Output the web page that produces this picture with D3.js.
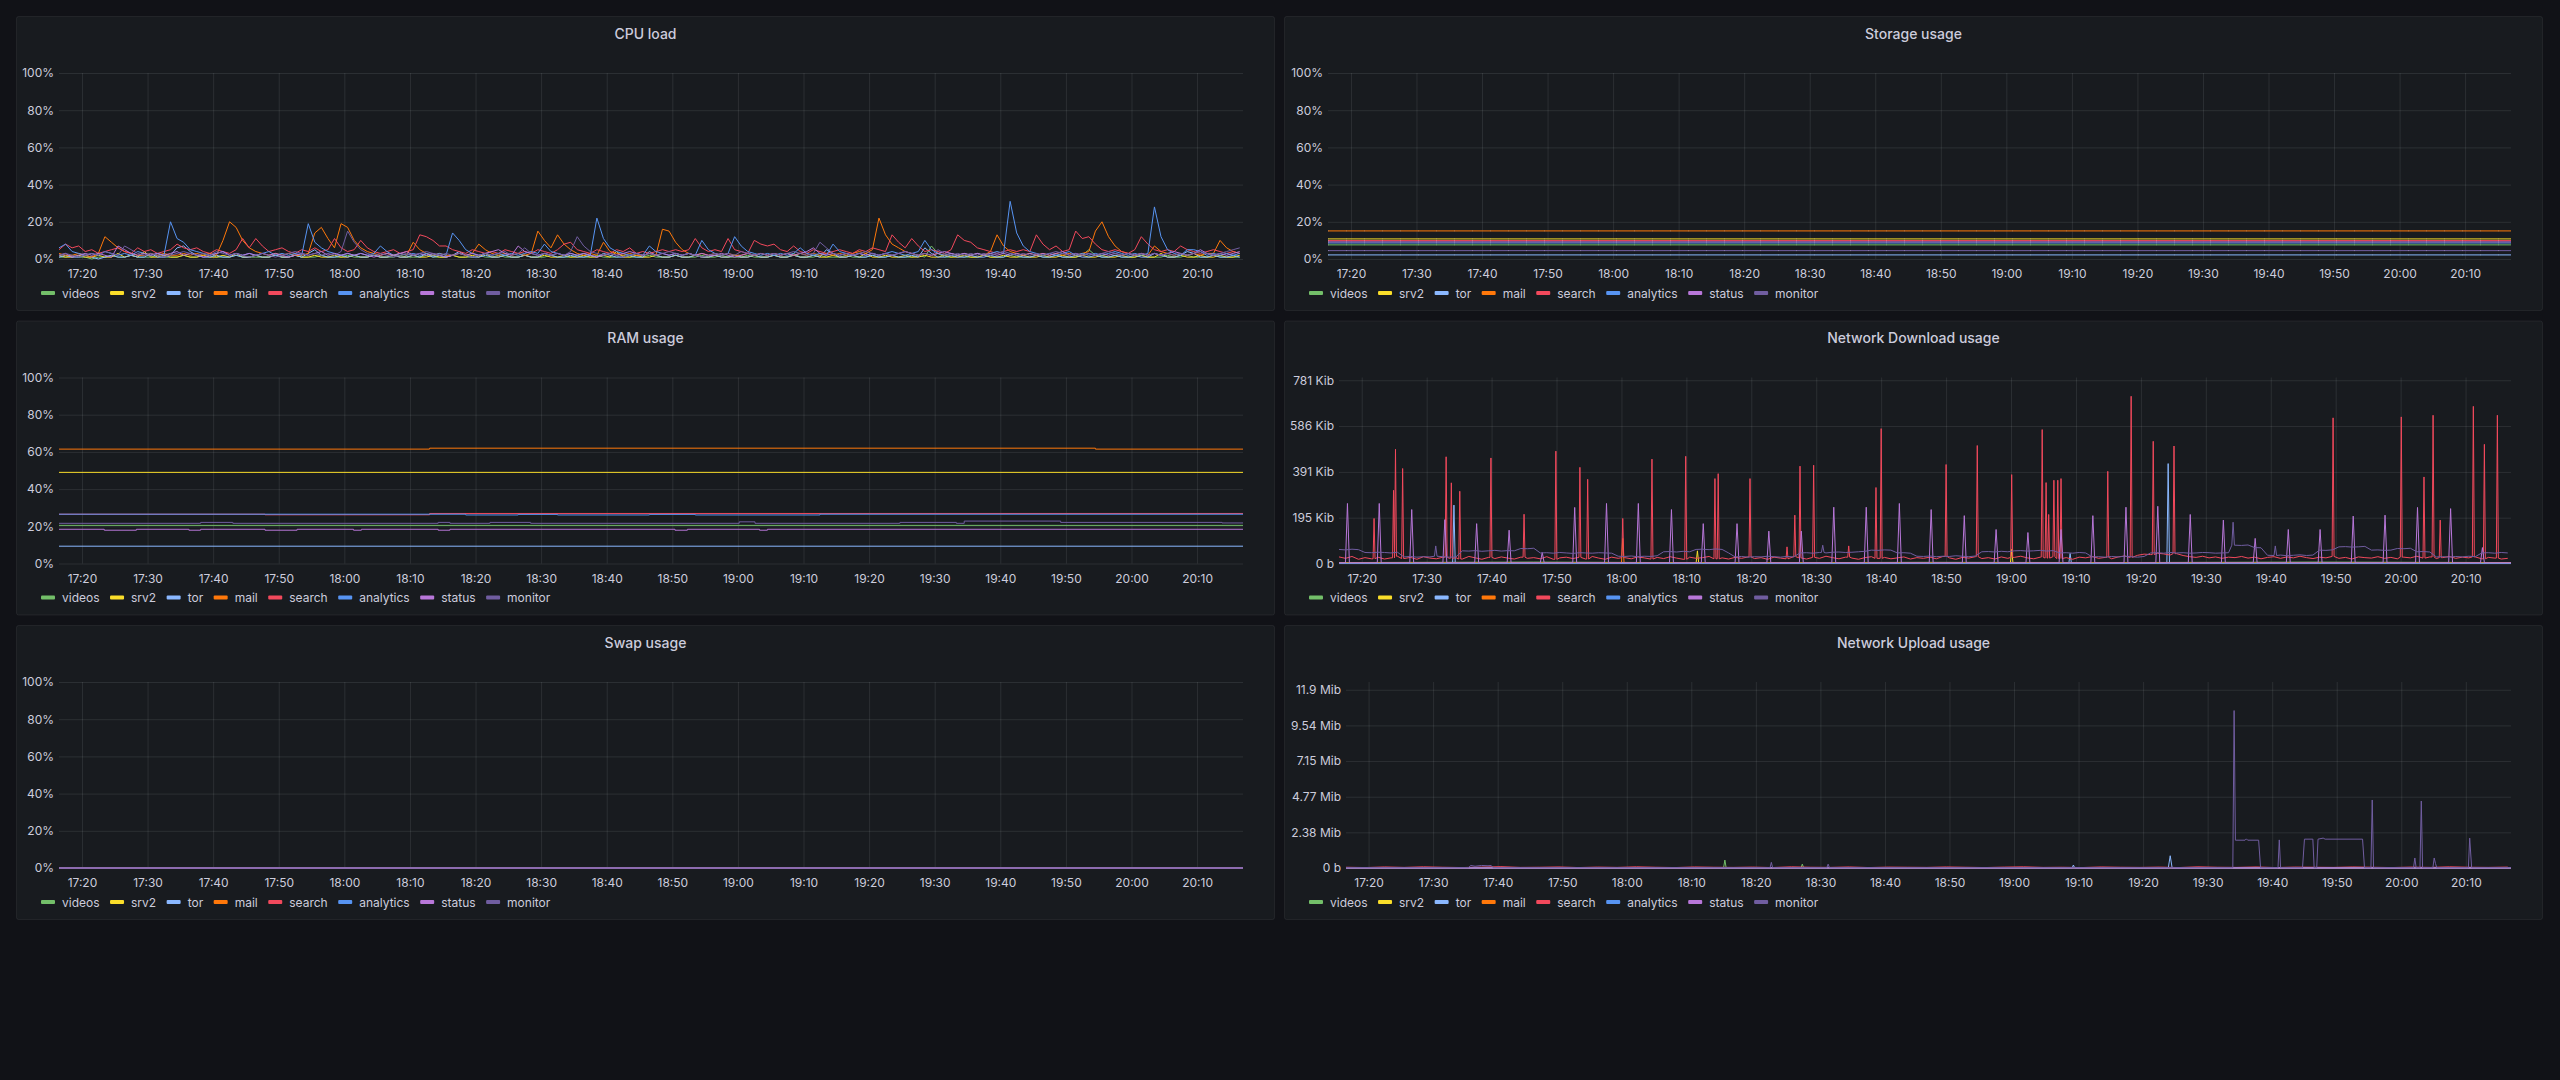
<!DOCTYPE html>
<html><head><meta charset="utf-8">
<script src="https://cdn.jsdelivr.net/npm/d3@7"></script>
<style>
html,body{margin:0;padding:0;background:#111217;}
svg{display:block;font-family:Inter,"Noto Sans",sans-serif;}
</style></head><body>
<svg id="c" width="2560" height="1080"></svg>
<script>
// ---------------- DATA ----------------
const startTime = new Date(2021, 4, 12, 17, 16, 30); // left edge of every plot
const endMinute = 180.5;                            // right edge, minutes after startTime
const seriesNames = ["videos","srv2","tor","mail","search","analytics","status","monitor"];

// CPU load (%), one value per minute from startTime
const cpuVideos = [1,1,2,1,1,0,1,1,2,1, 1,2,1,1,1,2,1,1,1,2, 1,1,2,3,1,1,1,2,1,1, 1,1,1,2,1,1,2,1,1,1, 2,1,1,1,2,1,1,1,2,1, 1,1,2,1,1,1,2,1,1,1, 2,1,1,1,2,1,1,2,1,1, 1,2,1,1,1,2,1,1,1,2, 1,1,2,1,1,1,2,1,1,1, 2,1,1,1,2,1,1,1,2,1, 1,2,1,1,1,2,1,1,1,2, 1,1,3,1,1,1,2,1,1,1, 2,1,1,1,2,1,1,2,1,1, 1,2,1,7,3,1,1,2,1,1, 1,2,1,1,1,2,1,1,1,2, 1,1,2,1,1,1,2,5,2,1, 1,2,1,1,1,2,1,1,1,2, 1,1,2,1,1,1,2,1,1,1, 1];
const cpuSrv2 = [2,1,1,2,1,1,2,1,1,3, 1,2,1,4,1,1,2,1,1,2, 1,1,2,1,1,2,1,3,1,1, 2,1,1,2,1,1,2,1,1,2, 1,1,2,1,1,2,1,1,2,1, 1,2,1,1,2,1,1,2,1,1, 2,1,1,2,1,3,1,1,2,1, 1,2,1,1,2,1,1,2,1,1, 2,1,1,2,1,4,1,1,2,1, 1,2,1,1,2,1,1,2,1,1, 2,1,1,2,1,1,2,1,1,2, 1,1,2,1,1,2,1,1,2,1, 1,2,1,3,1,1,2,1,1,2, 1,1,2,1,1,2,1,1,2,1, 1,2,1,1,2,1,1,2,1,1, 2,1,1,2,1,1,2,1,1,2, 1,1,2,1,1,2,1,1,3,1, 1,2,1,1,2,1,1,2,1,1, 2];
const cpuTor = [1,2,1,1,2,1,0,1,2,1, 1,2,1,1,3,1,1,2,6,7, 4,2,1,1,2,1,1,2,1,1, 2,1,1,2,1,1,2,1,3,5, 2,1,1,2,1,2,1,1,2,1, 1,2,1,1,2,1,3,1,2,1, 2,4,2,1,1,2,1,1,2,1, 1,2,1,1,3,2,1,1,2,1, 1,2,1,3,2,1,1,2,1,1, 4,2,1,1,2,1,1,2,1,1, 2,1,1,2,1,1,2,1,1,2, 1,1,2,1,1,2,1,5,3,1, 1,2,1,1,2,1,1,2,1,1, 2,1,6,3,1,1,2,1,1,2, 1,1,2,1,1,3,2,1,1,2, 1,1,2,1,1,2,1,1,2,1, 1,2,1,1,2,1,1,3,2,1, 1,2,4,3,1,1,2,1,1,2, 1];
const cpuMail = [3,2,2,3,2,1,3,12,9,6, 4,3,2,2,3,2,3,2,2,3, 2,3,2,3,2,10,20,17,10,6, 4,3,2,3,2,3,2,2,3,14, 17,11,6,19,17,10,6,4,3,2, 3,2,3,2,9,5,3,2,3,2, 2,3,2,3,8,5,3,2,3,2, 3,2,3,15,10,6,13,8,5,3, 2,3,2,9,4,3,2,3,2,2, 3,2,16,15,9,5,3,2,3,2, 3,2,3,2,2,3,2,3,2,3, 2,3,2,3,2,3,2,3,2,3, 2,3,4,3,5,22,13,8,6,4, 3,2,3,2,3,2,3,2,3,2, 3,2,4,13,7,4,3,2,3,2, 3,2,3,2,3,2,3,4,15,20, 12,7,4,3,2,3,2,7,4,3, 2,3,2,3,2,3,3,10,6,4, 3];
const cpuSearch = [5,8,6,7,4,5,3,4,5,6, 4,3,6,4,5,3,4,5,8,6, 5,6,4,3,5,4,3,5,11,6, 11,7,4,5,6,4,3,5,4,6, 4,5,11,6,4,5,10,6,4,3, 4,5,3,4,5,13,12,10,7,7, 5,4,3,5,4,3,4,3,5,4, 3,4,3,5,4,3,5,8,9,5, 4,3,5,4,3,5,4,6,3,4, 3,4,5,4,5,4,5,11,6,4, 5,4,11,5,4,3,10,8,7,8, 5,4,7,4,3,5,4,3,4,5, 4,3,5,4,6,5,4,13,9,6, 11,7,4,5,4,3,5,13,10,9, 6,5,4,3,4,5,4,5,4,13, 8,5,7,4,5,15,11,12,8,5, 4,5,4,3,5,12,8,5,4,5, 4,7,5,4,3,4,5,4,3,4, 3];
const cpuAnalytics = [6,8,4,3,2,3,2,4,3,2, 3,2,4,3,2,3,2,20,11,9, 5,4,3,2,3,4,2,3,2,3, 2,3,4,2,3,2,3,2,19,9, 6,4,3,2,3,2,3,2,3,7, 4,2,3,2,3,2,3,2,3,2, 14,10,5,3,2,3,2,3,2,3, 2,3,4,3,8,4,3,2,3,2, 3,2,22,11,6,4,3,2,3,2, 7,4,3,2,3,2,3,2,10,5, 3,2,3,12,7,4,3,2,3,2, 3,2,3,6,3,2,3,2,8,4, 3,2,3,2,3,2,3,4,3,2, 3,4,10,5,3,2,3,2,3,2, 3,2,3,4,3,31,14,7,4,3, 2,3,2,3,4,2,3,2,3,2, 3,4,3,2,3,2,3,28,12,5, 3,2,5,5,4,2,3,2,3,2, 3];
const cpuStatus = [2,3,1,2,3,2,3,2,1,7, 5,3,2,3,2,3,2,3,4,2, 3,2,1,2,3,4,2,3,2,3, 2,3,2,3,2,1,2,3,2,3, 4,2,3,2,3,2,3,2,1,2, 3,2,3,4,2,3,2,3,2,1, 2,3,2,3,2,3,4,5,3,2, 7,4,3,2,3,2,3,2,3,2, 3,2,1,2,3,2,3,4,3,2, 3,2,3,2,3,2,3,2,3,2, 2,3,2,1,2,3,2,3,2,3, 2,3,2,3,4,6,3,2,3,2, 3,2,3,2,3,2,3,2,3,4, 3,2,3,2,3,4,3,2,3,2, 3,2,3,2,3,2,3,2,3,2, 3,2,3,4,2,3,2,3,2,3, 2,3,2,3,2,3,2,3,2,3, 4,3,2,3,5,3,2,3,2,3, 4];
const cpuMonitor = [2,3,2,1,2,3,2,4,3,2, 7,5,3,2,3,2,1,2,3,4, 3,2,3,2,4,3,2,3,2,1, 2,3,2,1,2,3,4,3,2,3, 2,3,2,4,15,9,5,3,2,3, 2,1,2,3,2,3,4,3,2,3, 2,3,2,1,2,3,2,3,4,2, 3,6,3,2,3,2,3,2,4,12, 7,4,3,2,3,2,1,2,3,2, 3,2,3,4,3,2,3,2,1,2, 3,2,3,2,4,3,2,3,2,3, 2,3,4,3,2,3,9,6,3,2, 3,2,3,4,3,2,3,2,3,4, 3,2,3,2,5,3,2,3,2,3, 2,3,2,3,4,3,2,3,2,3, 2,3,4,3,2,3,2,3,2,3, 4,3,2,3,2,3,2,3,2,3, 2,3,2,3,4,3,2,3,4,5, 6];

// Storage usage (%), constant levels
const storageValues = [7.6, 10.8, 2.2, 15.1, 9.9, 8.6, 9.2, 4.5];

// RAM usage (%), [minute, value] change points
const ramVideos = [[0,20.5],[180.5,20.5]];
const ramSrv2 = [[0,49],[180.5,49]];
const ramTor = [[0,9.3],[180.5,9.3]];
const ramMail = [[0,61.5],[56.5,62],[158,61.5],[180.5,61.5]];
const ramSearch = [[0,26.5],[31.4,26.2],[56.5,26.9],[180.5,26.9]];
const ramAnalytics = [[0,26.5],[62,26.1],[70,26.4],[76,26.1],[90,26.4],[97,26.1],[116,26.5],[180.5,26.5]];
const ramStatus = [[0,18.4],[6.9,17.9],[11.8,18.4],[19.8,17.9],[21.6,18.4],[31.4,17.9],[36.3,18.4],[44.9,17.9],[46.1,18.4],[57.8,17.9],[59.6,18.4],[93.9,17.9],[95.8,18.4],[106.8,17.9],[108,18.4],[180.5,18.4]];
const ramMonitor = [[0,21.6],[21.6,22.1],[26.5,21.6],[57.8,22.1],[59.6,21.6],[65.7,22.1],[71.9,21.6],[103.7,22.4],[106.1,21.6],[128.2,22.1],[136.8,21.6],[138,22.8],[152.7,22.1],[177.3,21.8],[180.5,21.8]];

// Swap usage (%)
const swapValues = [0,0,0,0,0,0,0,0];

// Network Download (Kib)
const dlSearchBase = [28,22,30,18,25,20,27,19,24,31, 21,26,18,29,23,20,27,22,25,19, 30,24,18,26,21,28,23,19,27,22, 25,20,29,18,24,27,21,26,19,30, 23,18,27,22,25,20,28,24,19,26, 21,29,23,18,27,22,25,30,20,24, 19,26,22,28,21,25,18,27,23,20, 29,24,19,26,22,31,25,20,27,23, 18,25,29,22,26,20,24,28,19,25, 22,27,20,30,24,18,26,23,29,21, 25,19,28,22,26,31,24,20,27,23, 29,21,25,18,27,24,30,22,26,20, 28,32,26,35,40,38,44,41,36,42, 34,29,26,31,24,28,22,27,25,30, 23,27,20,26,29,22,28,24,31,25, 21,27,24,30,22,26,19,28,25,23, 29,22,26,20,27,24,31,23,28,21, 25,30,22,27,24,28,20,26,23,19, 22];
const dlSearchSpikes = [[5.4,192],[8.4,312],[8.7,487],[9.8,405],[16.5,455],[17.3,344],[18.6,308],[23.4,450],[28.5,210],[33.4,479],[37.1,410],[38.3,359],[43.7,192],[48.2,445],[53.4,457],[57.9,362],[58.4,383],[63.3,362],[69.0,71],[70.2,206],[71.0,415],[73.1,419],[78.5,75],[82.7,324],[83.5,575],[93.5,422],[98.3,503],[103.6,379],[108.3,571],[108.9,345],[109.3,209],[110.1,355],[110.7,355],[111.2,362],[118.4,393],[122.0,713],[125.4,521],[128.6,501],[153.1,621],[163.6,625],[167.1,369],[168.5,632],[169.6,185],[174.7,670],[176.4,508],[178.4,632]];
const dlStatusBase = [[0,3],[180.5,3]];
const dlStatusSpikes = [[1.3,256],[6.2,256],[11.2,230],[16.3,187],[21.2,170],[26.2,142],[31.3,47],[36.3,239],[41.2,256],[46.1,256],[51.2,230],[56.1,170],[61.3,170],[66.2,138],[71.2,138],[76.2,240],[81.2,240],[86.3,256],[91.2,230],[96.3,204],[101.2,145],[106.1,132],[111.2,145],[116.1,204],[121.2,240],[126.1,244],[131.1,209],[136.2,185],[141.1,107],[146.2,145],[151.1,145],[156.2,202],[161.1,206],[166.1,239],[171.2,234],[176.1,68]];
const dlMonitorBase = [60,58,61,59,47,46,48,47,45,48, 28,30,27,29,28,31,29,27,28,54, 53,55,52,54,56,53,55,54,64,63, 65,45,46,44,47,45,43,46,45,44, 46,45,44,31,30,32,29,31,30,33, 50,51,49,52,50,60,61,59,62,60, 45,28,30,27,29,28,31,29,27,30, 28,45,46,44,47,45,48,49,47,48, 50,52,57,56,58,57,45,46,44,31, 30,32,29,31,30,33,31,29,32,50, 51,49,52,50,54,55,53,54,56,53, 55,45,46,44,47,45,28,29,27,30, 28,31,29,27,30,45,46,44,47,45, 46,44,45,47,46,44,45,46,78,77, 79,68,67,35,34,36,33,35,37,34, 36,57,56,58,71,72,70,71,73,57, 58,56,57,64,63,65,50,51,49,28, 29,27,30,28,31,29,45,46,44,47, 45];
const dlMonitorSpikes = [[14.9,75],[74.5,78],[137.7,176],[144.2,75]];
const dlVideos = [[0,4],[30,6],[60,3],[90,5],[120,4],[150,6],[180.5,4]];
const dlSrv2 = [[0,2],[55.0,2],[55.2,54],[55.4,2],[103.4,2],[103.6,60],[103.8,2],[180.5,2]];
const dlTor = [[0,1],[17.5,1],[17.7,249],[17.9,1],[112.4,1],[112.6,43],[112.8,1],[127.5,1],[127.7,426],[127.9,1],[180.5,1]];
const dlMail = [[0,3],[43.5,3],[43.7,107],[43.9,3],[180.5,3]];
const dlAnalytics = [[0,1],[180.5,1]];

// Network Upload (Mib)
const upSearchStep = 3;
const upSearch = [0.05,0.03,0.07,0.04,0.08,0.05,0.03,0.06,0.09,0.04, 0.05,0.07,0.03,0.06,0.04,0.08,0.05,0.03,0.07,0.05, 0.04,0.06,0.03,0.08,0.05,0.04,0.07,0.03,0.06,0.05, 0.04,0.07,0.05,0.03,0.06,0.08,0.04,0.05,0.03,0.07, 0.05,0.04,0.06,0.03,0.08,0.05,0.04,0.07,0.03,0.06, 0.05,0.04,0.07,0.05,0.03,0.06,0.04,0.08,0.05,0.04, 0.06];
const upMonitor = [[0,0.02],[19,0.02],[19.3,0.17],[20,0.12],[21,0.17],[22,0.15],[22.5,0.17],[22.8,0.02],[65.7,0.02],[65.9,0.38],[66.1,0.02],[74.5,0.02],[74.7,0.26],[74.9,0.02],[137.4,0.02],[137.6,10.53],[137.8,1.86],[139.3,1.86],[139.5,1.95],[139.7,1.86],[141.4,1.86],[141.7,0.02],[144.4,0.02],[144.6,1.88],[144.8,0.02],[148.2,0.02],[148.5,1.93],[149.8,1.93],[150.0,0.02],[150.4,0.02],[150.6,1.93],[151.4,2.0],[151.7,1.93],[157.5,1.93],[157.8,0.02],[158.8,0.02],[159.0,4.55],[159.2,0.02],[165.4,0.02],[165.6,0.67],[165.8,0.02],[166.4,0.02],[166.6,4.48],[166.8,0.02],[168.4,0.02],[168.6,0.67],[168.8,0.3],[169.0,0.02],[173.9,0.02],[174.1,2.0],[174.4,0.02],[180.5,0.02]];
const upVideos = [[0,0.01],[58.5,0.01],[58.7,0.53],[58.9,0.01],[70.5,0.01],[70.7,0.26],[70.9,0.01],[180.5,0.01]];
const upTor = [[0,0],[112.5,0],[112.7,0.2],[112.9,0],[127.4,0],[127.7,0.82],[128.0,0],[180.5,0]];
const upSrv2 = [[0,0.01],[180.5,0.01]];
const upMail = [[0,0.01],[180.5,0.01]];
const upAnalytics = [[0,0.01],[180.5,0.01]];
const upStatus = [[0,0],[180.5,0]];

// Axis ticks
const pctTicks = [0,20,40,60,80,100];
const pctTickLabels = ["0%","20%","40%","60%","80%","100%"];
const dlTicks = [0,195.3125,390.625,585.9375,781.25];
const dlTickLabels = ["0 b","195 Kib","391 Kib","586 Kib","781 Kib"];
const upTicks = [0,2.384,4.768,7.153,9.537,11.921];
const upTickLabels = ["0 b","2.38 Mib","4.77 Mib","7.15 Mib","9.54 Mib","11.9 Mib"];

// ---------------- STYLE ----------------
const COLORS = ["#73BF69","#FADE2A","#8AB8FF","#FF780A","#F2495C","#5794F2","#B877D9","#705DA0"];
const TEXT = "#ccccdc";
const GRID = "rgba(240,250,255,0.09)";
const colX = [16, 1284], rowY = [16, 320.5, 625];
const panelW = 1259, panelH = 295, plotTop = 57, plotBottom = 243, plotRightPad = 32;

// ---------------- HELPERS ----------------
const toDate = m => new Date(startTime.getTime() + m * 60000);
const gridPts = arr => arr.map((v, i) => [i, v]);
function spikyPts(base, spikes, hw) {
  const pts = base.filter(p => !spikes.some(s => Math.abs(s[0] - p[0]) < hw));
  spikes.forEach(s => {
    const near = base.reduce((a, b) => Math.abs(b[0] - s[0]) < Math.abs(a[0] - s[0]) ? b : a);
    pts.push([s[0] - hw, near[1]], [s[0], s[1]], [s[0] + hw, near[1]]);
  });
  return pts.sort((a, b) => a[0] - b[0]);
}
const flat = v => [[0, v], [endMinute, v]];

const panels = [
  {title:"CPU load", col:0, row:0, left:43, domain:[0,100], ticks:pctTicks, labels:pctTickLabels,
   data:[cpuVideos,cpuSrv2,cpuTor,cpuMail,cpuSearch,cpuAnalytics,cpuStatus,cpuMonitor].map(gridPts)},
  {title:"Storage usage", col:1, row:0, left:44, domain:[0,100], ticks:pctTicks, labels:pctTickLabels,
   data:storageValues.map(flat), dotted:true},
  {title:"RAM usage", col:0, row:1, left:43, domain:[0,100], ticks:pctTicks, labels:pctTickLabels, step:true,
   data:[ramVideos,ramSrv2,ramTor,ramMail,ramSearch,ramAnalytics,ramStatus,ramMonitor]},
  {title:"Network Download usage", col:1, row:1, left:55, domain:[0,793], ticks:dlTicks, labels:dlTickLabels,
   data:[dlVideos, dlSrv2, dlTor, dlMail,
         spikyPts(gridPts(dlSearchBase), dlSearchSpikes, 0.15),
         dlAnalytics,
         spikyPts(dlStatusBase, dlStatusSpikes, 0.3),
         spikyPts(gridPts(dlMonitorBase), dlMonitorSpikes, 0.2)]},
  {title:"Swap usage", col:0, row:2, left:43, domain:[0,100], ticks:pctTicks, labels:pctTickLabels,
   data:swapValues.map(flat)},
  {title:"Network Upload usage", col:1, row:2, left:62, domain:[0,12.44], ticks:upTicks, labels:upTickLabels,
   data:[upVideos, upSrv2, upTor, upMail, upSearch.map((v,i)=>[i*upSearchStep, v]), upAnalytics, upStatus, upMonitor]}
];

// ---------------- DRAW ----------------
const svg = d3.select("#c");
svg.append("rect").attr("width",2560).attr("height",1080).attr("fill","#111217");

panels.forEach((p, pi) => {
  const g = svg.append("g").attr("transform", `translate(${colX[p.col]},${rowY[p.row]})`);
  g.append("rect").attr("x",0.5).attr("y",0.5).attr("width",panelW-1).attr("height",panelH-1)
    .attr("rx",2).attr("fill","#181b1f").attr("stroke","rgba(204,204,220,0.08)");
  g.append("text").attr("x",panelW/2).attr("y",17).attr("text-anchor","middle")
    .attr("dominant-baseline","central").attr("font-size",14).attr("font-weight",500)
    .attr("fill",TEXT).text(p.title);

  const right = panelW - plotRightPad;
  const x = d3.scaleTime().domain([startTime, toDate(endMinute)]).range([p.left, right]);
  const y = d3.scaleLinear().domain(p.domain).range([plotBottom, plotTop]);
  const timeTicks = x.ticks(d3.timeMinute.every(10));

  // grid
  const gy = g.append("g").attr("transform",`translate(${p.left},0)`)
    .call(d3.axisLeft(y).tickValues(p.ticks).tickSize(-(right-p.left)).tickFormat(""));
  gy.select(".domain").remove();
  gy.selectAll("line").attr("stroke",GRID);
  const gx = g.append("g").attr("transform",`translate(0,${plotBottom})`)
    .call(d3.axisBottom(x).tickValues(timeTicks).tickSize(-(plotBottom-plotTop)).tickFormat(""));
  gx.select(".domain").remove();
  gx.selectAll("line").attr("stroke",GRID);

  // axis labels
  const ay = g.append("g").attr("transform",`translate(${p.left},0)`)
    .call(d3.axisLeft(y).tickValues(p.ticks).tickSize(0).tickPadding(5).tickFormat((d,i)=>p.labels[i]));
  ay.select(".domain").remove();
  ay.attr("font-family",null).attr("font-size",null);
  ay.selectAll("text").attr("fill",TEXT).attr("font-size",12);
  const ax = g.append("g").attr("transform",`translate(0,${plotBottom})`)
    .call(d3.axisBottom(x).tickValues(timeTicks).tickSize(0).tickFormat(d3.timeFormat("%H:%M")));
  ax.select(".domain").remove();
  ax.attr("font-family",null).attr("font-size",null);
  ax.selectAll("text").attr("fill",TEXT).attr("font-size",12).attr("y",15).attr("dy","0.35em");

  // series
  const cid = "clip" + pi;
  g.append("clipPath").attr("id",cid).append("rect")
    .attr("x",p.left).attr("y",plotTop-2).attr("width",right-p.left).attr("height",plotBottom-plotTop+3);
  const line = d3.line().x(d => x(toDate(d[0]))).y(d => y(d[1]))
    .curve(p.step ? d3.curveStepAfter : d3.curveLinear);
  const lg = g.append("g").attr("clip-path",`url(#${cid})`);
  p.data.forEach((pts, i) => {
    lg.append("path").attr("d", line(pts)).attr("fill","none")
      .attr("stroke", COLORS[i]).attr("stroke-width",1).attr("stroke-linejoin","round");
    if (p.dotted) {
      lg.append("path").attr("d", line(pts)).attr("fill","none")
        .attr("stroke","rgba(255,255,255,0.22)").attr("stroke-width",1)
        .attr("stroke-dasharray","1 17");
    }
  });

  // legend
  let lx = 25;
  const ly = 277;
  seriesNames.forEach((n, i) => {
    g.append("rect").attr("x",lx).attr("y",ly-2).attr("width",14).attr("height",4)
      .attr("rx",1).attr("fill",COLORS[i]);
    const t = g.append("text").attr("x",lx+21).attr("y",ly).attr("dominant-baseline","central")
      .attr("font-size",12).attr("fill",TEXT).text(n);
    lx += 21 + t.node().getComputedTextLength() + 10.5;
  });
});
</script></body></html>
